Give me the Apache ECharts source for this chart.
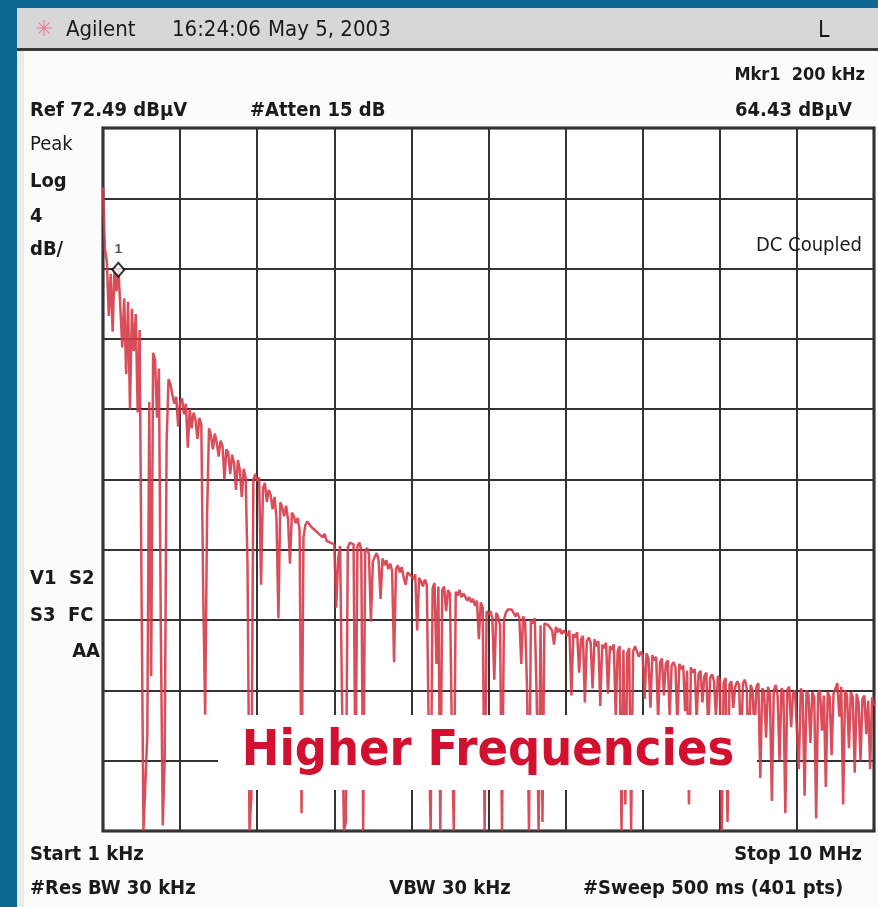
<!DOCTYPE html>
<html>
<head>
<meta charset="utf-8">
<script src="https://cdn.jsdelivr.net/npm/echarts@6/dist/echarts.min.js"></script>
<style>html,body{margin:0;padding:0;background:#0b6890;}#c{width:878px;height:907px;}</style>
</head>
<body>
<div id="c"></div>
<script>
// Instrument settings
const startKHz = 1;
const stopKHz = 10000;
const refLevel = 72.49;
const dbPerDiv = 4;
const divisions = 10;
const markerFreqKHz = 200;
const markerLevel = 64.43;

// Trace (401 pts, dBµV)
const trace = [
69.1,65.6,64.9,61.8,64.2,60.9,64.6,63.2,64.43,62.3,
60.0,62.8,58.5,62.6,56.5,62.2,59.8,61.9,56.3,61.0,
46.0,32.5,32.5,38.0,56.9,41.3,59.7,59.3,56.0,58.8,
44.0,32.8,36.5,54.6,58.2,57.9,57.3,56.8,57.2,55.5,
56.9,57.1,56.2,56.8,54.3,56.5,55.4,56.3,55.9,54.8,
56.0,55.6,46.0,39.1,50.5,55.4,55.0,54.2,55.1,54.6,
53.8,54.7,54.4,52.5,54.2,54.0,52.8,53.9,53.4,51.9,
53.6,53.0,51.5,53.1,52.6,47.5,32.5,34.5,52.5,52.8,
52.4,52.6,46.5,52.0,52.3,51.2,51.9,51.6,50.8,51.5,
50.3,44.6,51.2,50.9,50.4,51.0,50.2,47.7,50.6,50.4,
50.0,50.3,49.6,33.5,49.2,49.9,50.1,50.0,49.8,49.9,
49.6,49.7,49.4,49.5,49.2,49.4,49.0,49.1,48.9,49.0,
48.8,45.2,48.0,48.7,40.0,32.5,33.0,48.6,48.9,49.0,
48.8,35.0,48.7,48.9,48.5,32.5,48.4,48.6,48.2,44.4,
47.8,48.1,48.3,47.9,45.7,48.0,47.6,47.9,47.4,47.7,
47.3,42.1,47.4,47.6,47.2,47.5,46.9,46.5,47.2,47.3,
47.0,46.8,47.1,43.9,46.9,46.7,46.4,46.8,46.5,38.0,
32.5,46.3,46.6,42.0,46.4,32.5,46.2,46.4,45.0,46.2,
46.0,38.0,32.5,46.1,45.9,46.2,45.8,46.0,45.9,45.6,
45.8,45.5,45.7,45.3,45.6,43.4,45.5,45.2,32.5,45.0,
44.8,45.0,44.6,41.1,44.9,44.7,44.2,32.5,44.5,44.9,
45.1,45.2,45.1,44.9,44.7,44.9,44.6,42.0,44.7,44.4,
40.6,32.5,44.5,44.3,44.6,40.1,32.5,44.2,33.0,44.3,
44.4,44.2,44.3,43.9,43.1,44.1,43.8,44.0,43.7,43.9,
43.8,43.6,43.9,40.2,43.7,43.5,43.8,41.5,43.4,43.6,
39.8,43.3,43.5,43.2,40.6,43.4,43.0,43.3,39.6,43.1,
42.9,43.2,40.3,43.0,42.8,43.1,39.0,42.7,43.0,32.5,
42.8,34.0,42.6,42.9,32.5,42.7,43.0,42.9,42.4,42.7,
42.5,40.0,42.6,42.3,39.5,42.5,42.2,42.4,38.8,42.1,
42.3,40.2,42.0,42.2,39.0,41.9,42.1,41.8,38.5,42.0,
41.7,41.9,39.3,41.6,34.0,41.8,41.5,41.7,38.9,41.4,
41.6,39.8,41.3,41.5,38.2,41.2,41.4,41.0,39.0,41.3,
41.1,32.5,40.9,41.2,33.0,40.8,41.0,39.5,40.7,41.0,
40.8,37.0,40.9,41.1,40.6,36.2,40.8,40.5,38.0,40.7,
40.9,35.5,40.6,40.4,37.8,40.7,40.3,34.2,40.5,40.8,
40.2,36.5,40.6,40.4,33.5,40.5,40.7,38.4,40.3,40.5,
40.4,36.0,40.6,40.3,34.5,40.5,40.2,37.5,40.4,40.1,
33.2,40.3,40.5,38.2,40.2,35.0,40.4,40.1,36.8,40.3,
40.6,40.9,39.0,40.7,34.0,40.5,40.2,37.2,40.4,40.1,
35.8,40.3,39.8,36.5,40.0,40.2,38.0,39.9,36.0,40.1,
39.6
];

// Screen annotations
const headerTexts = ['Agilent', '16:24:06', 'May 5, 2003', 'L'];
const leftLabels = ['Peak', 'Log', '4', 'dB/'];
const statusLabels = ['V1  S2', 'S3  FC', 'AA'];
const calloutText = 'Higher Frequencies';

const bottomLevel = refLevel - dbPerDiv * divisions;
const step = (stopKHz - startKHz) / (trace.length - 1);
const traceData = trace.map((v, i) => [startKHz + i * step, v]);

const chart = echarts.init(document.getElementById('c'), null, {renderer: 'canvas'});

const FONT = '"Liberation Sans Narrow","DejaVu Sans Condensed","Liberation Sans",sans-serif';
function txt(x, y, s, opts) {
  opts = opts || {};
  return {
    type: 'text', x: x, y: y, z: 100,
    style: {
      text: s,
      fill: opts.fill || '#1a1a1a',
      font: (opts.weight || 'bold') + ' ' + (opts.size || 19) + 'px ' + (opts.family || FONT),
      textAlign: opts.align || 'left',
      textVerticalAlign: 'middle'
    }
  };
}

const graphics = [
  // panel
  {type: 'rect', z: -100, shape: {x: 17, y: 8, width: 861, height: 899}, style: {fill: '#ebebeb'}},
  {type: 'rect', z: -99, shape: {x: 17, y: 8, width: 861, height: 40}, style: {fill: '#d7d7d7'}},
  {type: 'rect', z: -99, shape: {x: 17, y: 48, width: 861, height: 3}, style: {fill: '#3a3a3a'}},
  {type: 'rect', z: -99, shape: {x: 24, y: 51, width: 854, height: 856}, style: {fill: '#fbfbfb'}},
  // header
  txt(35, 30, '✳', {fill: '#e77f95', size: 22, family: '"DejaVu Sans",sans-serif', weight: 'normal'}),
  txt(66, 30, headerTexts[0], {size: 22, weight: 'normal'}),
  txt(172, 30, headerTexts[1], {size: 22, weight: 'normal'}),
  txt(268, 30, headerTexts[2], {size: 22, weight: 'normal'}),
  txt(818, 31, headerTexts[3], {size: 23, weight: 'normal'}),
  // top status
  txt(865, 75, 'Mkr1  ' + markerFreqKHz + ' kHz', {align: 'right', size: 18}),
  txt(30, 111, 'Ref ' + refLevel + ' dBµV', {size: 20}),
  txt(250, 111, '#Atten 15 dB', {size: 20}),
  txt(852, 111, markerLevel + ' dBµV', {size: 20, align: 'right'}),
  // left labels
  txt(30, 145, leftLabels[0], {size: 20, weight: 'normal'}),
  txt(30, 182, leftLabels[1], {size: 20}),
  txt(30, 217, leftLabels[2], {size: 20}),
  txt(30, 250, leftLabels[3], {size: 20}),
  txt(30, 579, statusLabels[0], {size: 20}),
  txt(30, 616, statusLabels[1], {size: 20}),
  txt(100, 652, statusLabels[2], {size: 20, align: 'right'}),
  txt(862, 246, 'DC Coupled', {size: 20, weight: 'normal', align: 'right'}),
  // bottom
  txt(30, 855, 'Start 1 kHz', {size: 20}),
  txt(862, 855, 'Stop 10 MHz', {size: 20, align: 'right'}),
  txt(30, 889, '#Res BW 30 kHz', {size: 20}),
  txt(450, 889, 'VBW 30 kHz', {size: 20, align: 'center'}),
  txt(583, 889, '#Sweep 500 ms (401 pts)', {size: 20}),
  // callout
  {type: 'rect', z: 90, shape: {x: 218, y: 715, width: 539, height: 75}, style: {fill: '#ffffff'}},
  {type: 'text', z: 100, x: 488, y: 752, scaleX: 0.9, originX: 0, originY: 0, style: {
    text: calloutText, fill: '#d2102f',
    font: 'bold 50px "DejaVu Sans",sans-serif', textAlign: 'center', textVerticalAlign: 'middle'}}
];

chart.setOption({
  animation: false,
  backgroundColor: '#0b6890',
  grid: {left: 103, top: 128, right: 4, bottom: 76, show: true, backgroundColor: '#ffffff',
         borderColor: '#1a1a1a', borderWidth: 3, containLabel: false},
  xAxis: [
    {type: 'value', min: startKHz, max: stopKHz, show: false, splitLine: {show: false}},
    {type: 'value', min: 0, max: divisions, interval: 1, position: 'bottom',
     axisLine: {show: false}, axisTick: {show: false}, axisLabel: {show: false},
     splitLine: {show: true, lineStyle: {color: '#333333', width: 2}}}
  ],
  yAxis: [
    {type: 'value', min: bottomLevel, max: refLevel, show: false, splitLine: {show: false}},
    {type: 'value', min: 0, max: divisions, interval: 1,
     axisLine: {show: false}, axisTick: {show: false}, axisLabel: {show: false},
     splitLine: {show: true, lineStyle: {color: '#333333', width: 2}}}
  ],
  series: [
    {type: 'line', xAxisIndex: 0, yAxisIndex: 0, data: traceData, symbol: 'none', clip: true,
     lineStyle: {color: '#d63a48', width: 2.5, opacity: 0.9}, z: 5},
    {type: 'scatter', xAxisIndex: 0, yAxisIndex: 0, data: [[markerFreqKHz, markerLevel]],
     symbol: 'diamond', symbolSize: [12, 14], z: 10,
     itemStyle: {color: '#ffffff', borderColor: '#000000', borderWidth: 2},
     label: {show: true, formatter: '1', position: 'top', distance: 6, color: '#222', fontSize: 13, fontWeight: 'bold'}}
  ],
  graphic: graphics
});
</script>
</body>
</html>
